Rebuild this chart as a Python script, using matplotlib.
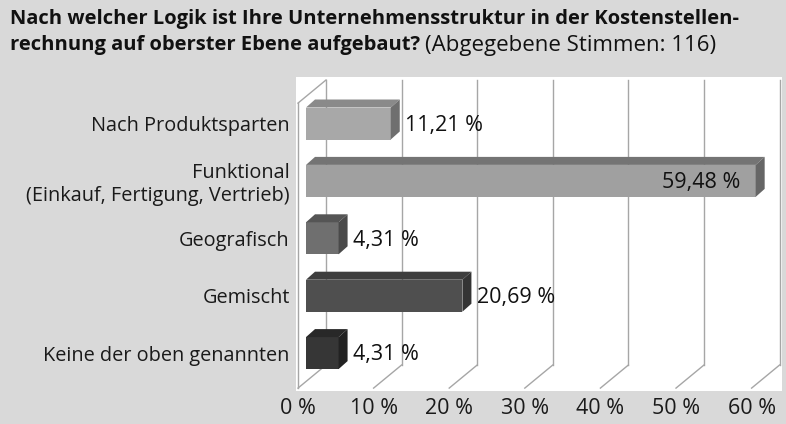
import matplotlib
matplotlib.use("Agg")
import matplotlib.pyplot as plt
from matplotlib.patches import Polygon
import numpy as np

# data
categories = ["Nach Produktsparten",
              "Funktional\n(Einkauf, Fertigung, Vertrieb)",
              "Geografisch",
              "Gemischt",
              "Keine der oben genannten"]
values = [11.21, 59.48, 4.31, 20.69, 4.31]
value_labels = ["11,21 %", "59,48 %", "4,31 %", "20,69 %", "4,31 %"]
ticks = [0, 10, 20, 30, 40, 50, 60]
tick_labels = ["0 %", "10 %", "20 %", "30 %", "40 %", "50 %", "60 %"]

front_col = ["#a8a8a8", "#a0a0a0", "#6f6f6f", "#4f4f4f", "#363636"]
top_col = ["#8a8a8a", "#747474", "#555555", "#3e3e3e", "#282828"]
side_col = ["#6f6f6f", "#666666", "#4a4a4a", "#343434", "#222222"]

plt.rcParams['font.family'] = ['Open Sans', 'DejaVu Sans']

W, H = 786, 424
fig = plt.figure(figsize=(W / 100, H / 100), dpi=100)
fig.patch.set_facecolor("#d9d9d9")

# white plot area (pixel box)
x0, x1, y0, y1 = 296, 782, 77, 391
ax = fig.add_axes([x0 / W, 1 - y1 / H, (x1 - x0) / W, (y1 - y0) / H])
ax.set_facecolor("white")
for s in ax.spines.values():
    s.set_visible(False)

# axis scale: 0 % at px 306, 7.56 px per %, rows 57.4 px apart
ppx = 7.56
ppy = 57.4
ax.set_xlim(-(306 - x0) / ppx, (x1 - 306) / ppx)
ax.set_ylim((y1 - 123.5) / ppy, -(123.5 - y0) / ppy)

def off(dx, dy):
    # pixel offset -> data offset
    return dx / ppx, dy / ppy

# walls / grid
bx, by = off(20, -16.5)   # back wall relative to bar plane
fx, fy = off(-8, 6.6)     # front edge relative to bar plane
floor = (381.5 - 123.5) / ppy
top = (80 - 123.5) / ppy
gc = "#a6a6a6"
for t in ticks:
    ax.plot([t + bx, t + bx], [top, floor + by], color=gc, lw=1, zorder=1)
    ax.plot([t + bx, t + fx], [floor + by, floor + fy], color=gc, lw=1, zorder=1)
# left wall
ftop = top - by + fy
ax.plot([bx, fx], [top, ftop], color=gc, lw=1, zorder=1)
ax.plot([fx, fx], [ftop, floor + fy], color=gc, lw=1, zorder=1)

# 3d bars
h = 32 / ppy
dx, dy = off(9, -8)
for i, v in enumerate(values):
    yt = i - h / 2
    yb = i + h / 2
    ax.barh(i, v, height=h, left=0, color=front_col[i], zorder=3)
    ax.add_patch(Polygon([(0, yt), (v, yt), (v + dx, yt + dy), (dx, yt + dy)],
                         closed=True, color=top_col[i], zorder=3, lw=0))
    ax.add_patch(Polygon([(v, yt), (v + dx, yt + dy), (v + dx, yb + dy), (v, yb)],
                         closed=True, color=side_col[i], zorder=3, lw=0))
    if v > 40:
        ax.text(v - 2, i + 0.03, value_labels[i], ha="right", va="center",
                fontsize=15.5, color="#111111", zorder=4)
    else:
        ax.text(v + 1.9, i + 0.03, value_labels[i], ha="left", va="center",
                fontsize=15.5, color="#111111", zorder=4)

# category labels
ax.set_yticks(range(len(categories)))
ax.set_yticklabels(categories, fontsize=14.3, color="#1a1a1a", linespacing=1.15)
ax.tick_params(axis="y", length=0, pad=4.5)
ax.set_xticks([])

# x tick labels on the front edge
for t, lab in zip(ticks, tick_labels):
    ax.text(t + fx, (408 - 123.5) / ppy, lab, ha="center", va="center",
            fontsize=15.5, color="#1a1a1a", clip_on=False)

# title
fig.text(10 / W, 1 - 19 / H, "Nach welcher Logik ist Ihre Unternehmensstruktur in der Kostenstellen-",
         fontsize=14.5, fontweight="bold", va="center", ha="left", color="#111111")
t2 = fig.text(10 / W, 1 - 45 / H, "rechnung auf oberster Ebene aufgebaut?",
              fontsize=14.5, fontweight="bold", va="center", ha="left", color="#111111")
fig.canvas.draw()
bb = t2.get_window_extent()
fig.text((bb.x1 + 5) / W, 1 - 45 / H, "(Abgegebene Stimmen: 116)",
         fontsize=16, va="center", ha="left", color="#111111")

fig.savefig("out.png", dpi=100, facecolor=fig.get_facecolor())
